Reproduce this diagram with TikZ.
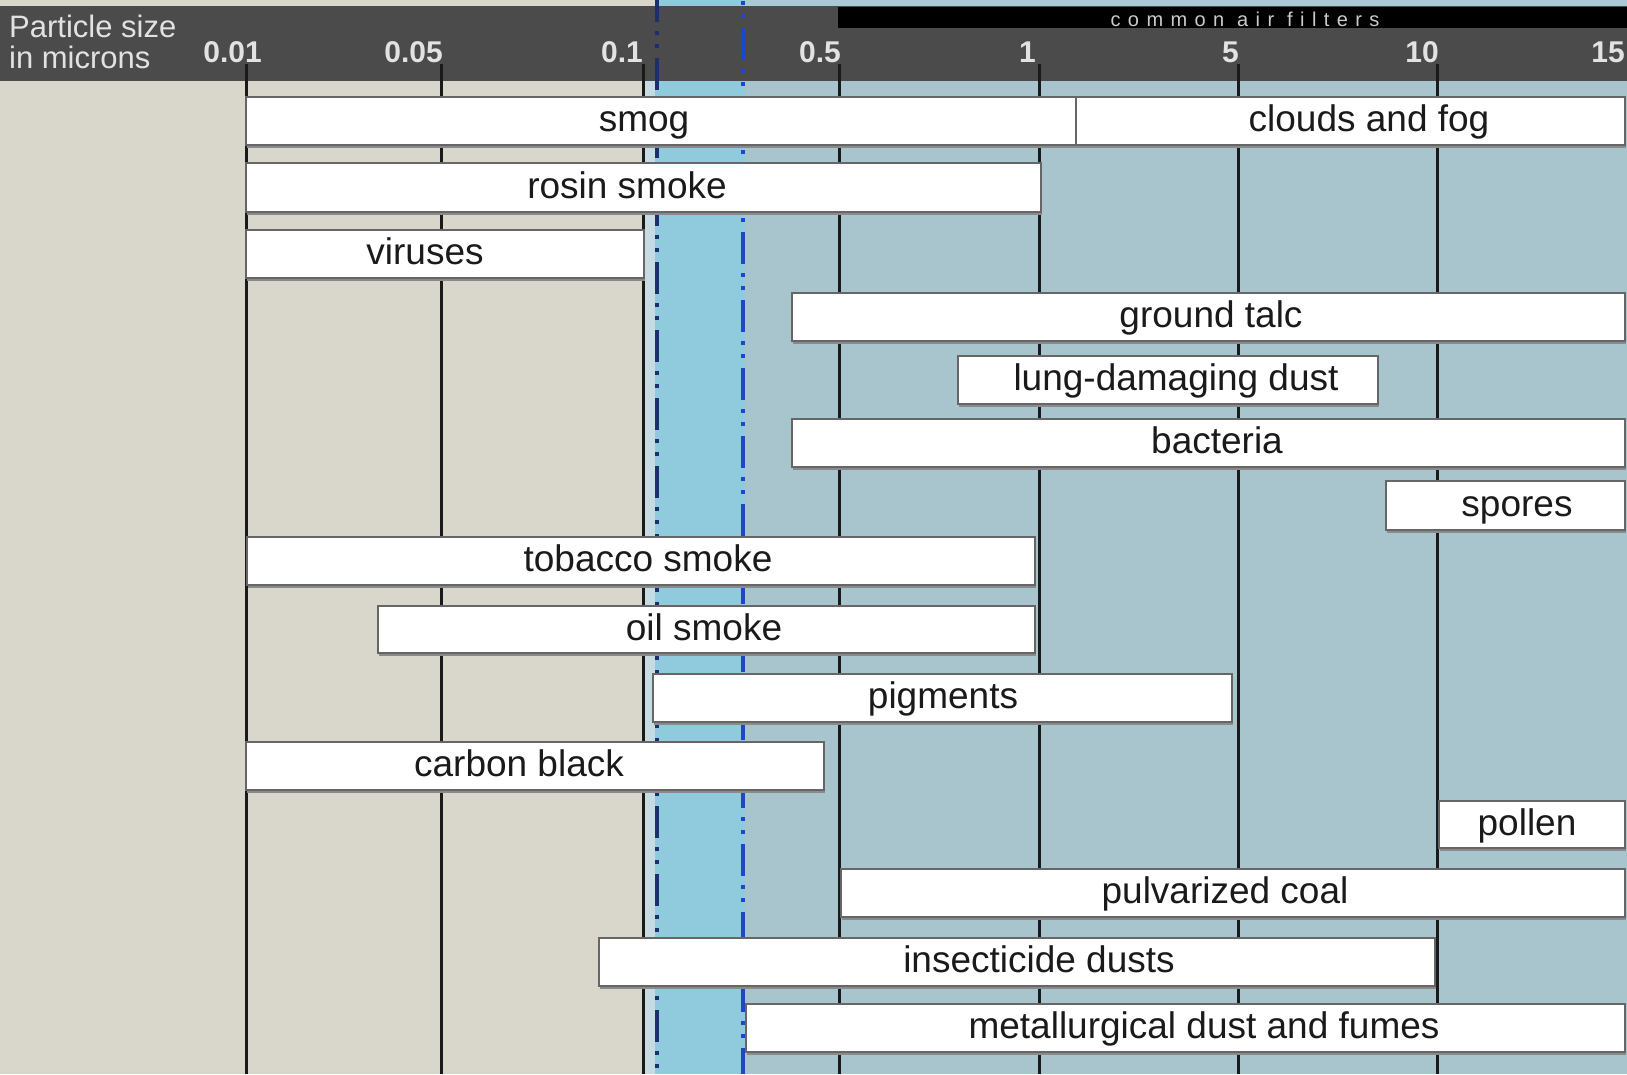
\documentclass[tikz,border=0pt]{standalone}
\usepackage{fontspec}
\setmainfont{Liberation Sans}
\newfontfamily\spacedfont[LetterSpace=37]{Liberation Sans}
\usetikzlibrary{shadows}
\definecolor{beigebg}{HTML}{D9D7CC}
\definecolor{stripbg}{HTML}{C6DCE2}
\definecolor{cyanbg}{HTML}{8FCBDC}
\definecolor{greyblue}{HTML}{A8C4CD}
\definecolor{topblue}{HTML}{A9CAD4}
\definecolor{headgrey}{HTML}{4B4B4B}
\definecolor{headtext}{HTML}{E2E2E2}
\definecolor{gridc}{HTML}{1A1A1A}
\definecolor{navyc}{HTML}{1C2E6E}
\definecolor{bluec}{HTML}{1E46C8}
\definecolor{barline}{HTML}{666666}
\definecolor{shadowc}{HTML}{8A8A8A}
\definecolor{labelc}{HTML}{1A1A1A}
\newcommand\pbar[7]{%
  \node[pbar, minimum width=#3-#2, minimum height=#5-#4] (#1) at (#2,#4) {};
  \node[plabel] (#1-t) at (#6,{(#4+#5)/2+10.5}) {#7};}
\begin{document}
\begin{tikzpicture}[x=1pt,y=-1pt,
  pbar/.style={draw=barline, line width=1.5pt, fill=white, inner sep=0pt, outer sep=0pt,
    anchor=north west, drop shadow={shadow xshift=1pt, shadow yshift=-2.5pt, fill=shadowc, opacity=1}},
  plabel/.style={anchor=base, inner sep=0pt, text=labelc, font=\fontsize{37}{44}\selectfont},
  ticklbl/.style={anchor=base east, inner sep=0pt, text=headtext, font=\fontsize{30}{36}\selectfont\bfseries},
  gridline/.style={draw=gridc, line width=3pt},
  dashpat/.style={line width=4.5pt, dash pattern=on 32pt off 9pt on 4pt off 9pt on 4pt off 10pt}
]
\useasboundingbox (0,0) rectangle (1627,1074);
% backgrounds
\fill[beigebg] (0,0) rectangle (643,1074);
\fill[stripbg] (643,6) rectangle (655,1074);
\fill[beigebg] (643,0) rectangle (655,6);
\fill[cyanbg] (655,0) rectangle (745,1074);
\fill[greyblue] (745,6) rectangle (1627,1074);
\fill[topblue] (745,0) rectangle (1627,6);
% header
\fill[headgrey] (0,6) rectangle (1627,81);
\fill[black] (838,7) rectangle (1627,28);
\node[anchor=base, inner sep=0pt, text=headtext!90!black, font=\fontsize{20}{22}\selectfont\spacedfont] (filters) at (1245,26) {common air filters};
\node[anchor=base west, inner sep=0pt, text=headtext, font=\fontsize{31}{33}\selectfont] (ps1) at (9,37) {Particle size};
\node[anchor=base west, inner sep=0pt, text=headtext, font=\fontsize{31}{33}\selectfont] (ps2) at (9,68) {in microns};
\node[ticklbl] (t001) at (262,62) {0.01};
\node[ticklbl] (t005) at (443,62) {0.05};
\node[ticklbl] (t01) at (643,62) {0.1};
\node[ticklbl] (t05) at (841,62) {0.5};
\node[ticklbl] (t1) at (1036,62) {1};
\node[ticklbl] (t5) at (1239,62) {5};
\node[ticklbl] (t10) at (1439,62) {10};
\node[ticklbl] (t15) at (1625,62) {15};
% grid lines
\foreach \gx in {246,441,643,839.5,1039,1238,1437}
  \draw[gridline] (\gx,64) -- (\gx,1074);
% filter limits
\draw[dashpat, navyc, dash phase=10pt] (657,0) -- (657,1074);
\draw[dashpat, bluec, dash phase=40pt] (743,0) -- (743,1074);
% bars
\pbar{smog}{246}{1076}{97}{145}{644}{smog}
\pbar{clouds}{1076}{1625}{97}{145}{1369}{clouds and fog}
\pbar{rosin}{246}{1041}{163}{212}{627}{rosin smoke}
\pbar{viruses}{246}{644}{230}{278}{425}{viruses}
\pbar{talc}{792}{1625}{293}{341}{1211}{ground talc}
\pbar{lung}{958}{1378}{356}{404}{1176}{lung-damaging dust}
\pbar{bacteria}{792}{1625}{419}{467}{1217}{bacteria}
\pbar{spores}{1386}{1625}{481}{530}{1517}{spores}
\pbar{tobacco}{247}{1035}{537}{585}{648}{tobacco smoke}
\pbar{oil}{378}{1035}{606}{653}{704}{oil smoke}
\pbar{pigments}{653}{1232}{674}{722}{943}{pigments}
\pbar{carbon}{246}{824}{742}{790}{519}{carbon black}
\pbar{pollen}{1439}{1625}{801}{848}{1527}{pollen}
\pbar{coal}{841}{1625}{869}{917}{1225}{pulvarized coal}
\pbar{insect}{599}{1435}{938}{986}{1039}{insecticide dusts}
\pbar{metal}{746}{1625}{1004}{1052}{1204}{metallurgical dust and fumes}
\end{tikzpicture}
\end{document}
